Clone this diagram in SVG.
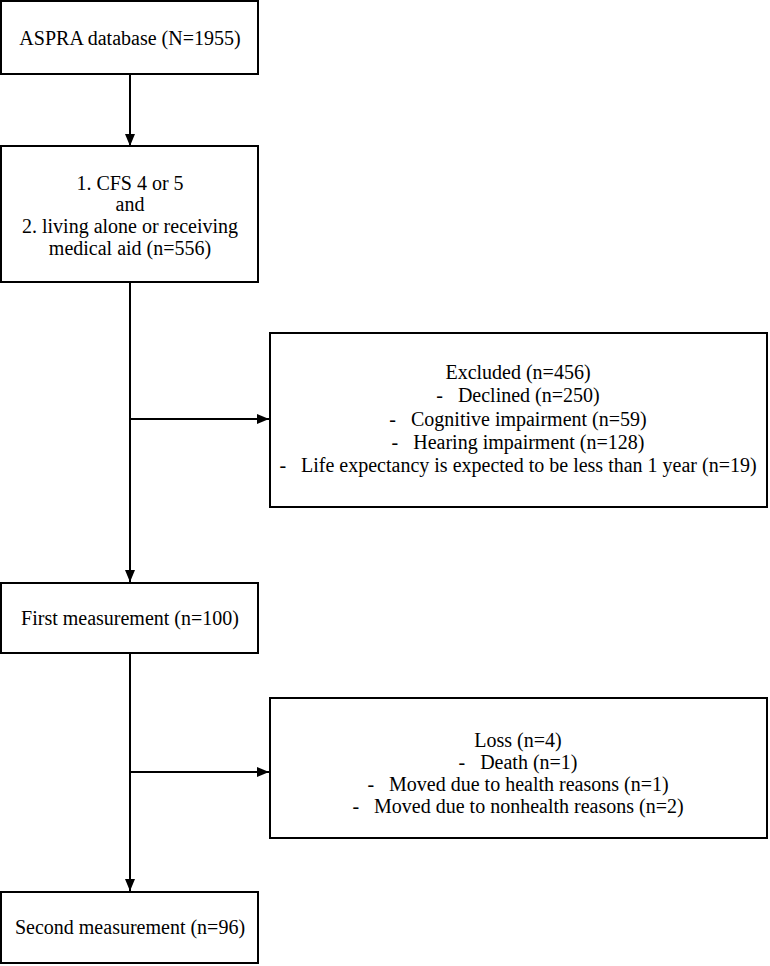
<svg xmlns="http://www.w3.org/2000/svg" width="770" height="966" viewBox="0 0 770 966">
<style>
.box{fill:#fff;stroke:#000;stroke-width:2}
.t{font-family:"Liberation Serif","Times New Roman",serif;font-size:20px;fill:#000;text-anchor:middle}
.c{stroke:#000;stroke-width:2;fill:none}
</style>
<defs>
<marker id="ah" viewBox="0 0 12 10" refX="12" refY="5" markerWidth="12" markerHeight="10" markerUnits="userSpaceOnUse" orient="auto">
<path d="M0,0 L12,5 L0,10 Z" fill="#000"/>
</marker>
</defs>
<rect width="770" height="966" fill="#fff"/>
<g id="connectors">
<line class="c" x1="130" y1="74" x2="130" y2="146" marker-end="url(#ah)"/>
<line class="c" x1="130" y1="282" x2="130" y2="582" marker-end="url(#ah)"/>
<line class="c" x1="130" y1="419" x2="269" y2="419" marker-end="url(#ah)"/>
<line class="c" x1="130" y1="653" x2="130" y2="891" marker-end="url(#ah)"/>
<line class="c" x1="130" y1="772" x2="269" y2="772" marker-end="url(#ah)"/>
</g>
<g id="n1">
<rect class="box" x="1" y="1" width="257" height="73"/>
<text class="t" x="130" y="45">ASPRA database (N=1955)</text>
</g>
<g id="n2">
<rect class="box" x="1" y="146" width="257" height="136"/>
<text class="t" x="130" y="190">1. CFS 4 or 5</text>
<text class="t" x="130" y="211">and</text>
<text class="t" x="130" y="233">2. living alone or receiving</text>
<text class="t" x="130" y="255">medical aid (n=556)</text>
</g>
<g id="n3">
<rect class="box" x="270" y="333" width="497" height="174"/>
<text class="t" x="518" y="379">Excluded (n=456)</text>
<text class="t" x="518" y="402" xml:space="preserve">-   Declined (n=250)</text>
<text class="t" x="518" y="426" xml:space="preserve">-   Cognitive impairment (n=59)</text>
<text class="t" x="518" y="449" xml:space="preserve">-   Hearing impairment (n=128)</text>
<text class="t" x="518" y="472" xml:space="preserve">-   Life expectancy is expected to be less than 1 year (n=19)</text>
</g>
<g id="n4">
<rect class="box" x="1" y="583" width="257" height="70"/>
<text class="t" x="130" y="625">First measurement (n=100)</text>
</g>
<g id="n5">
<rect class="box" x="270" y="698" width="497" height="140"/>
<text class="t" x="518" y="747">Loss (n=4)</text>
<text class="t" x="518" y="769" xml:space="preserve">-   Death (n=1)</text>
<text class="t" x="518" y="791" xml:space="preserve">-   Moved due to health reasons (n=1)</text>
<text class="t" x="518" y="813" xml:space="preserve">-   Moved due to nonhealth reasons (n=2)</text>
</g>
<g id="n6">
<rect class="box" x="1" y="892" width="257" height="71"/>
<text class="t" x="130" y="934">Second measurement (n=96)</text>
</g>
</svg>
